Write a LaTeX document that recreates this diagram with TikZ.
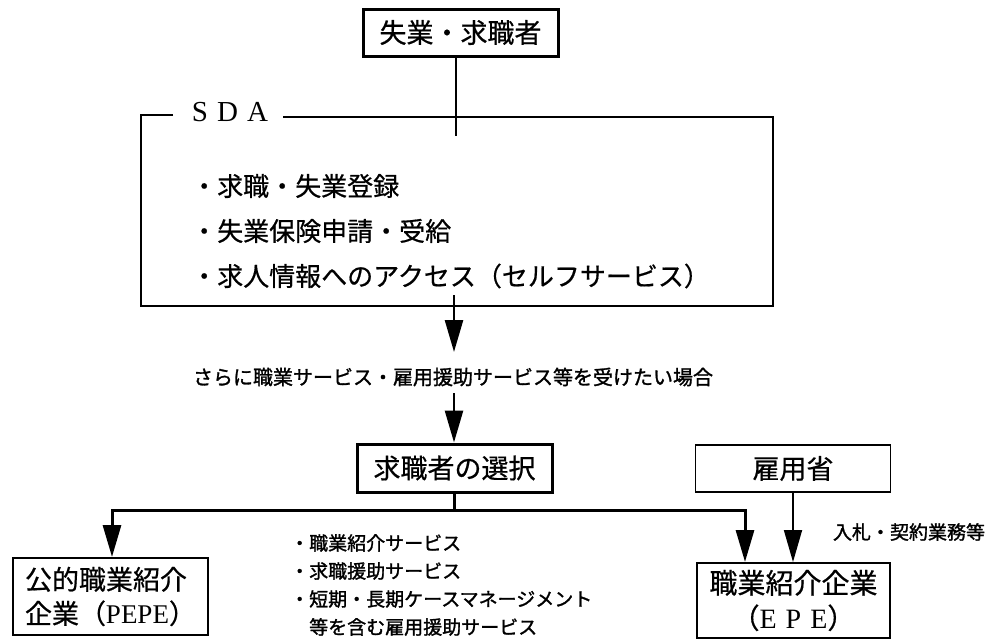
\documentclass[tikz,border=0pt]{standalone}
\usepackage{fontspec}
\setmainfont{Liberation Serif}
\newfontfamily\jp{Noto Sans CJK JP}[FakeBold=0.6]
\newfontfamily\jpsm{Noto Sans CJK JP}[FakeBold=1.4]
\usetikzlibrary{arrows.meta}
\begin{document}
\begin{tikzpicture}[x=1pt,y=-1pt,
  box/.style={draw, line width=3pt, minimum width=195pt, minimum height=47pt, inner sep=0pt,
    font=\jp\fontsize{27}{30}\selectfont},
  thinbox/.style={box, line width=1.8pt},
  twobox/.style={draw, line width=2pt, minimum width=195pt, minimum height=77pt, inner sep=0pt,
    font=\jp\fontsize{27}{34}\selectfont},
  arr/.style={line width=2.6pt, -{Triangle[length=32pt,width=18pt]}},
  bigtxt/.style={anchor=west, inner sep=0pt, font=\jp\fontsize{26}{30}\selectfont},
  smalltxt/.style={anchor=west, inner sep=0pt, font=\jpsm\fontsize{19}{22}\selectfont},
  frame/.style={line width=2pt}]
\useasboundingbox (0,0) rectangle (993,640);

% top box
\node[box] (job) at (460.5,32.5) {失業・求職者};
\coordinate (sdain) at (456,136);
\draw[line width=2.8pt] (sdain |- job.south) -- (sdain);

% SDA frame
\node[inner sep=0pt, font=\fontsize{29}{30}\selectfont] (sda) at (230,112) {S\kern9pt D\kern9pt A};
\draw[frame] (173,115) -- (141,115) -- (141,306) -- (773,306) -- (773,117) -- (283,117);

\node[bigtxt] (b1) at (191,186) {・求職・失業登録};
\node[bigtxt] (b2) at (191,231) {・失業保険申請・受給};
\node[bigtxt] (b3) at (191,276) {・求人情報へのアクセス（セルフサービス）};

% arrows to choice
\coordinate (a1s) at (454,295);
\coordinate (a1e) at (454,352);
\draw[arr] (a1s) -- (a1e);
\node[inner sep=0pt, font=\jpsm\fontsize{20}{22}\selectfont] (cond) at (453,377) {さらに職業サービス・雇用援助サービス等を受けたい場合};
\coordinate (a2s) at (454,393);

\node[box, minimum height=48pt] (choice) at (454.5,468) {求職者の選択};
\draw[arr] (a2s) -- (a2s |- choice.north);

\node[thinbox] (moh) at (793,468.5) {雇用省};

% bottom boxes
\node[twobox, align=left] (pepe) at (110.5,596.5) {公的職業紹介\\企業（{\rmfamily PEPE}）};
\node[twobox, align=center, font=\jp\fontsize{28}{35}\selectfont, minimum width=193pt, minimum height=75pt] (epe) at (793.5,600.5) {職業紹介企業\\（{\rmfamily E\kern9pt P\kern9pt E}）};

% branch
\coordinate (br) at (454,510);
\coordinate (bl) at (112,510);
\coordinate (brr) at (745,510);
\draw[line width=3pt] (choice.south -| br) -- (br);
\draw[arr, line width=3pt] (br) -- (bl) -- (bl |- pepe.north);
\draw[arr, line width=3pt] (br) -- (brr) -- (brr |- epe.north);
\draw[arr, line width=1.8pt] (moh.south) -- (moh.south |- epe.north);

\node[inner sep=0pt, font=\jpsm\fontsize{19}{22}\selectfont] (bid) at (909,532) {入札・契約業務等};

% service list
\node[smalltxt] (s1) at (290,543) {・職業紹介サービス};
\node[smalltxt] (s2) at (290,571) {・求職援助サービス};
\node[smalltxt] (s3) at (290,599) {・短期・長期ケースマネージメント};
\node[smalltxt] (s4) at (290,627) {　等を含む雇用援助サービス};
\end{tikzpicture}
\end{document}
